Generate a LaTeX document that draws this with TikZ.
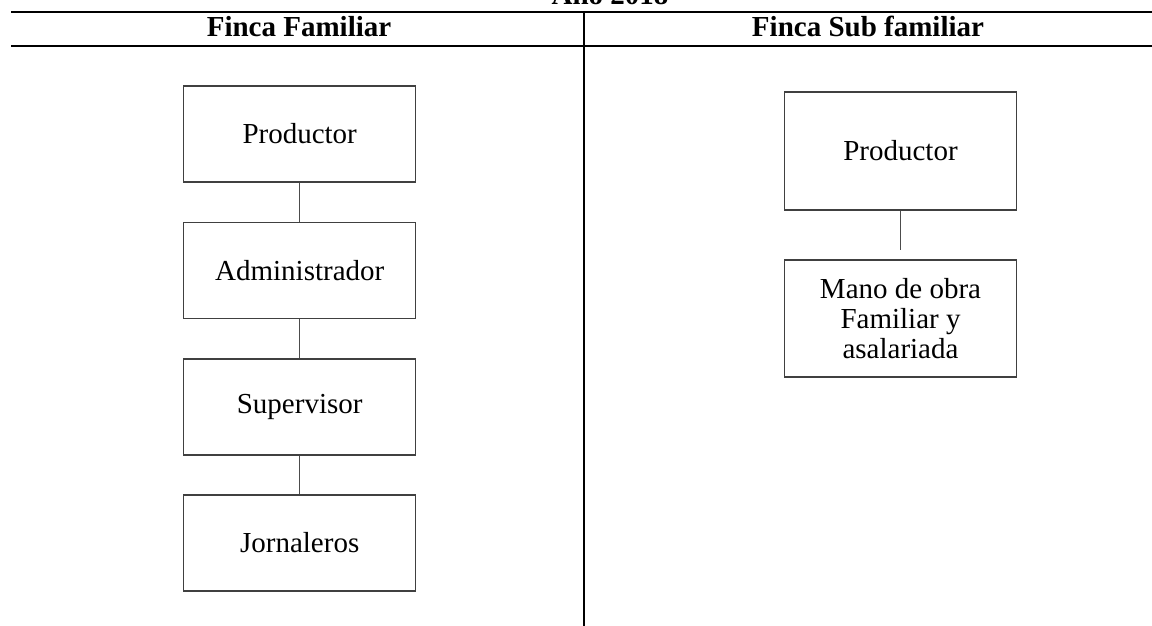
\documentclass[tikz,border=0pt]{standalone}
\usepackage{fontspec}
\setmainfont{Liberation Serif}
\begin{document}
\begin{tikzpicture}[x=1pt,y=-1pt,
  orgbox/.style={draw=black!75,line width=1.1pt,minimum width=232pt,inner sep=0pt,align=center,font=\fontsize{29}{30}\selectfont},
  link/.style={draw=black!70,line width=1.2pt},
  rulex/.style={line width=2pt},
  head/.style={font=\fontsize{29}{30}\selectfont\bfseries,anchor=base}]
\useasboundingbox (0,0) rectangle (1152,626);
\node[head] (title) at (610,4.5) {Año 2018};
\coordinate (tl) at (11,12);
\coordinate (tr) at (1152,12);
\coordinate (ml) at (11,46.5);
\coordinate (mr) at (1152,46.5);
\coordinate (vt) at (583.5,12);
\coordinate (vb) at (583.5,626);
\draw[rulex] (tl) -- (tr);
\draw[rulex] (ml) -- (mr);
\draw[rulex] (vt) -- (vb);
\node[head] (h1) at (299,37) {Finca Familiar};
\node[head] (h2) at (868,37) {Finca Sub familiar};
\node[orgbox,minimum height=96pt] (p1) at (299.7,134) {Productor};
\node[orgbox,minimum height=96pt] (a1) at (299.7,270.5) {Administrador};
\node[orgbox,minimum height=96pt] (s1) at (299.7,407) {Supervisor};
\node[orgbox,minimum height=96pt] (j1) at (299.7,543) {Jornaleros};
\node[orgbox,minimum height=118pt] (p2) at (900.5,151) {Productor};
\node[orgbox,minimum height=117pt] (m2) at (900.5,318.5) {Mano de obra\\Familiar y\\asalariada};
\draw[link] (p1) -- (a1);
\draw[link] (a1) -- (s1);
\draw[link] (s1) -- (j1);
\coordinate (m2top) at (900.5,249.5);
\draw[link] (p2) -- (m2top);
\end{tikzpicture}
\end{document}
